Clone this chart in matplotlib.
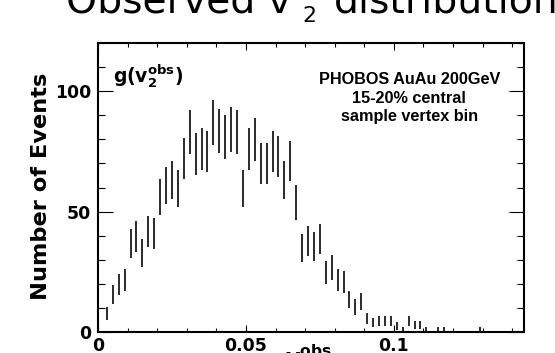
import numpy as np
import matplotlib
matplotlib.use("Agg")
import matplotlib.pyplot as plt
from matplotlib.ticker import FixedLocator, MultipleLocator, FixedFormatter

# ---------------- data ----------------
v2_obs = [0.003, 0.005, 0.007, 0.009, 0.011, 0.013, 0.015, 0.017, 0.019,
          0.021, 0.023, 0.025, 0.027, 0.029, 0.031, 0.033, 0.035, 0.037,
          0.039, 0.041, 0.043, 0.045, 0.047, 0.049, 0.051, 0.053, 0.055,
          0.057, 0.059, 0.061, 0.063, 0.065, 0.067, 0.069, 0.071, 0.073,
          0.075, 0.077, 0.079, 0.081, 0.083, 0.085, 0.087, 0.089, 0.091,
          0.093, 0.095, 0.097, 0.099, 0.101, 0.103, 0.105, 0.107, 0.109,
          0.111, 0.115, 0.117, 0.129]
n_events = [7.6, 15.6, 19.7, 21.6, 36.8, 39.6, 32.7, 41.8, 40.8,
            56.0, 60.8, 63.0, 59.7, 72.1, 82.9, 74.0, 76.0, 75.0,
            86.9, 83.6, 81.0, 84.1, 82.9, 59.7, 76.1, 80.1, 70.0,
            70.0, 75.0, 73.0, 63.0, 71.0, 53.9, 34.8, 37.7, 35.5,
            38.8, 24.7, 26.7, 21.6, 20.8, 13.5, 10.4, 12.7, 5.5,
            4.0, 4.5, 4.5, 4.5, 2.5, 1.0, 4.5, 3.0, 3.0,
            1.0, 1.0, 1.0, 1.0]
n_err = np.sqrt(np.array(n_events))   # Poisson errors

xtick_vals = [0.0, 0.05, 0.1]
xtick_labels = ["0", "0.05", "0.1"]
ytick_vals = [0, 50, 100]
ytick_labels = ["0", "50", "100"]

W, H = 555, 353
plt.rcParams['mathtext.default'] = 'bf'
plt.rcParams['font.family'] = ['DejaVu Sans']

fig = plt.figure(figsize=(W / 100, H / 100), dpi=100)
fig.patch.set_facecolor('white')
ax = fig.add_axes([98 / W, 21 / H, 426 / W, 289 / H])

ax.errorbar(v2_obs, n_events, yerr=n_err, fmt='none', ecolor='#111111',
            elinewidth=1.25, capsize=0)

ax.set_xlim(0, 0.144)
ax.set_ylim(0, 120)

ax.xaxis.set_major_locator(FixedLocator(xtick_vals))
ax.xaxis.set_major_formatter(FixedFormatter(xtick_labels))
ax.xaxis.set_minor_locator(MultipleLocator(0.01))
ax.yaxis.set_major_locator(FixedLocator(ytick_vals))
ax.yaxis.set_major_formatter(FixedFormatter(ytick_labels))
ax.yaxis.set_minor_locator(MultipleLocator(10))

for s in ax.spines.values():
    s.set_linewidth(1.5)
    s.set_color('black')

ax.tick_params(axis='both', which='both', direction='in', top=True, right=True,
               colors='black', width=0.8)
ax.tick_params(axis='x', which='major', length=5.2, pad=3.8)
ax.tick_params(axis='x', which='minor', length=2.6)
ax.tick_params(axis='y', which='major', length=10.8, pad=5)
ax.tick_params(axis='y', which='minor', length=5.0)
for lab in ax.get_xticklabels() + ax.get_yticklabels():
    lab.set_fontweight('bold')
    lab.set_fontsize(12.4)

# ---------------- texts ----------------
fig.text(66 / W, 1 - 12.5 / H, "Observed v", fontsize=28.4, ha='left',
         va='baseline', color='black')
fig.text(302 / W, 1 - 21.5 / H, "2", fontsize=15.8, ha='left',
         va='baseline', color='black')
fig.text(334 / W, 1 - 12.5 / H, "distribution", fontsize=28.4, ha='left',
         va='baseline', color='black')

fig.text(41 / W, 1 - 186 / H, "Number of Events", rotation=90, fontsize=16.2,
         fontweight='bold', ha='center', va='center')

fig.text(285 / W, 10.5 / H, r"$v_2^{obs}$", fontsize=16, ha='left', va='top')

fig.text(113 / W, 1 - 82 / H, r"$g(v_2^{obs})$", fontsize=13.5, ha='left',
         va='baseline')

ann_font = dict(family='Liberation Sans', fontweight='bold', fontsize=11.7,
                ha='center', va='baseline')
fig.text(410 / W, 1 - 83.5 / H, "PHOBOS AuAu 200GeV", **ann_font)
fig.text(409 / W, 1 - 102.5 / H, "15-20% central", **ann_font)
fig.text(410 / W, 1 - 121.5 / H, "sample vertex bin", **ann_font)

fig.savefig("out.png", dpi=100)
